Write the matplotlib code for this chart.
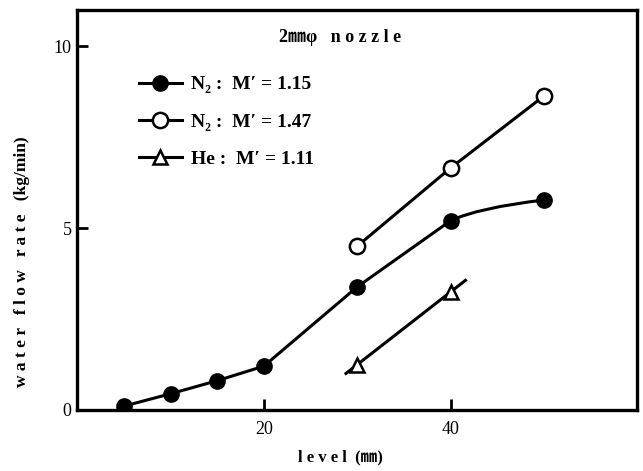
import matplotlib.pyplot as plt
from matplotlib.path import Path
from matplotlib.patches import PathPatch

plt.rcParams['font.family'] = ['Liberation Serif', 'DejaVu Serif', 'Noto Sans CJK JP']

# filled circles: N2, M' = 1.15
level_n2a = [5, 10, 15, 20, 30, 40]
flow_n2a = [0.1, 0.44, 0.8, 1.2, 3.38, 5.2]
# last point joined to 40 by a smooth curve
level_n2a_end = 50
flow_n2a_end = 5.77
curve_ctrl = (43, 5.56)

# open circles: N2, M' = 1.47
level_n2b = [30, 40, 50]
flow_n2b = [4.5, 6.65, 8.63]

# triangles: He, M' = 1.11 (line drawn a bit past the points)
level_he = [30, 40]
flow_he = [1.24, 3.24]
level_he_line = [28.8, 41.6]
flow_he_line = [1.0, 3.56]

fig = plt.figure(figsize=(6.43, 4.71), dpi=100)
ax = fig.add_axes([0.12, 0.13, 0.871, 0.849])

lw = 2.2
ax.plot(level_n2a, flow_n2a, color='black', lw=lw, marker='o', ms=11,
        mfc='black', mec='black', label="N₂ :  M′ = 1.15", zorder=3)
path = Path([(level_n2a[-1], flow_n2a[-1]), curve_ctrl,
             (level_n2a_end, flow_n2a_end)],
            [Path.MOVETO, Path.CURVE3, Path.CURVE3])
ax.add_patch(PathPatch(path, fc='none', ec='black', lw=lw, zorder=2))
ax.plot([level_n2a_end], [flow_n2a_end], ls='none', marker='o', ms=11,
        mfc='black', mec='black', zorder=3)

ax.plot(level_n2b, flow_n2b, color='black', lw=lw, marker='o', ms=11,
        mfc='white', mec='black', mew=1.8, label="N₂ :  M′ = 1.47", zorder=3)

ax.plot(level_he_line, flow_he_line, color='black', lw=lw, zorder=2)
ax.plot(level_he, flow_he, ls='none', marker='^', ms=10,
        mfc='white', mec='black', mew=1.8, zorder=3)
# legend handle for He
ax.plot([], [], color='black', lw=lw, marker='^', ms=10, mfc='white',
        mec='black', mew=1.8, label="He :  M′ = 1.11")

ax.set_xlim(0, 60)
ax.set_ylim(0, 11)
ax.set_xticks([20, 40])
ax.set_yticks([0, 5, 10])
ax.tick_params(direction='in', length=8, width=2, labelsize=13, pad=8)
ax.tick_params(axis='y', pad=4)
for s in ax.spines.values():
    s.set_linewidth(2.4)

ax.set_xlabel('l e v e l  (㎜)', fontsize=12, fontweight='bold')
ax.xaxis.set_label_coords(0.47, -0.1)
ax.set_ylabel('w a t e r   f l o w   r a t e   (kg/min)', fontsize=12.5,
              fontweight='bold')
ax.yaxis.set_label_coords(-0.085, 0.37)

ax.text(0.47, 0.93, '2㎜φ   n o z z l e', transform=ax.transAxes,
        ha='center', va='center', fontsize=13, fontweight='bold')

ax.legend(loc='upper left', bbox_to_anchor=(0.11, 0.835), frameon=False,
          prop={'size': 14, 'weight': 'bold'}, handlelength=2.2,
          handletextpad=0.5, labelspacing=1.0, borderpad=0, borderaxespad=0)

fig.savefig('out.png', dpi=100)
